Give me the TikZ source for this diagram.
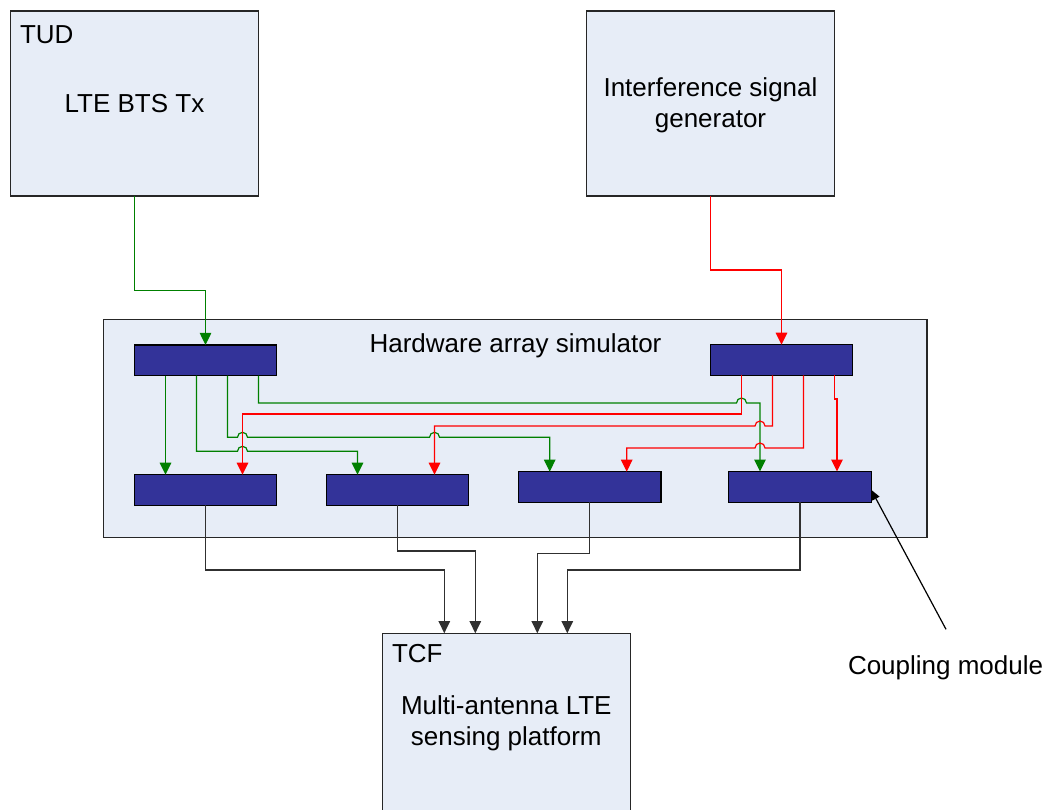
\documentclass[tikz,border=0pt]{standalone}
\usepackage{fontspec}
\setmainfont{Liberation Sans}
\usetikzlibrary{arrows.meta}
\definecolor{boxfill}{HTML}{E7EDF7}
\definecolor{modfill}{HTML}{333399}
\definecolor{sigtx}{HTML}{008000}
\definecolor{sigif}{HTML}{FF0000}
\definecolor{wire}{HTML}{303030}

\begin{document}
\begin{tikzpicture}[x=1pt,y=-1pt,
  unit/.style={draw=black!85, line width=1.3pt, fill=boxfill, inner sep=0pt, outer sep=0pt},
  module/.style={draw=black, line width=1.2pt, fill=modfill, minimum width=142.4pt,
    minimum height=30.6pt, inner sep=0pt, outer sep=0pt},
  lbl/.style={font=\fontsize{26}{31}\selectfont, inner sep=0pt, outer sep=0pt, anchor=base},
  gwire/.style={draw=sigtx, line width=1.2pt},
  rwire/.style={draw=sigif, line width=1.2pt},
  kwire/.style={draw=wire, line width=1.2pt},
  tip/.style={-{Triangle[length=12pt,width=11.5pt]}}
]
\useasboundingbox (0,0) rectangle (1047,809);
\clip (0,0) rectangle (1047,809);

% main units
\node[unit, minimum width=247.6pt, minimum height=185pt] (tud) at (134.5,103.5) {};
\node[unit, minimum width=248pt, minimum height=185pt] (isg) at (710.3,103.5) {};
\node[unit, minimum width=823.7pt, minimum height=218.2pt] (has) at (515.2,428.4) {};
\node[unit, minimum width=248pt, minimum height=185pt] (tcf) at (506.3,725.7) {};

% coupling modules
\node[module] (min) at (205.5,360.2) {};
\node[module] (mif) at (781.5,360) {};
\node[module] (m1) at (205.5,490) {};
\node[module] (m2) at (397.5,490) {};
\node[module] (m3) at (589.7,487) {};
\node[module] (m4) at (800,486.8) {};

% labels
\node[lbl, anchor=base west] (tudname) at (20,43) {TUD};
\node[lbl] (tudtext) at (134.5,112.3) {LTE BTS Tx};
\node[lbl] (isgtext1) at (710.5,96) {Interference signal};
\node[lbl] (isgtext2) at (710.5,127) {generator};
\node[lbl] (hastitle) at (515.5,352.7) {Hardware array simulator};
\node[lbl, anchor=base west] (tcfname) at (392,662) {TCF};
\node[lbl] (tcftext1) at (506.3,714.3) {Multi-antenna LTE};
\node[lbl] (tcftext2) at (506.3,745.3) {sensing platform};
\node[lbl, anchor=base west] (cmtext) at (848,674.5) {Coupling module};

% feeds into the simulator
\draw[gwire, tip] (tud.south) -- ++(0,94.3) -| (min.north);
\draw[rwire, tip] (isg.south) -- ++(0,74) -| (mif.north);

% LTE signal distribution
\draw[gwire, tip] ([xshift=-40pt]min.south) -- ([xshift=-40pt]m1.north);
\draw[gwire, tip] ([xshift=-9pt]min.south) |- (237.5,451.3)
  arc[start angle=180, end angle=0, radius=5pt] -| ([xshift=-40pt]m2.north);
\draw[gwire, tip] ([xshift=22pt]min.south) |- (237.5,437.3)
  arc[start angle=180, end angle=0, radius=5pt] -- (429.5,437.3)
  arc[start angle=180, end angle=0, radius=5pt] -| ([xshift=-40pt]m3.north);
\draw[gwire, tip] ([xshift=53pt]min.south) |- (736.5,403)
  arc[start angle=180, end angle=0, radius=5pt] -| ([xshift=-40pt]m4.north);

% interference distribution
\draw[rwire, tip] ([xshift=-40pt]mif.south) -- ++(0,38.7) -| ([xshift=37pt]m1.north);
\draw[rwire, tip] ([xshift=-9pt]mif.south) |- (765,426)
  arc[start angle=0, end angle=180, radius=5pt] -| ([xshift=37pt]m2.north);
\draw[rwire, tip] ([xshift=22pt]mif.south) |- (765,448)
  arc[start angle=0, end angle=180, radius=5pt] -| ([xshift=37pt]m3.north);
\draw[rwire, tip] ([xshift=53pt]mif.south) -- ++(0,23.7) -| ([xshift=37pt]m4.north);

% outputs to the sensing platform
\draw[kwire, tip] (m1.south) -- ++(0,64.6) -| ([xshift=-62pt]tcf.north);
\draw[kwire, tip] (m2.south) -- ++(0,45.7) -| ([xshift=-31pt]tcf.north);
\draw[kwire, tip] (m3.south) -- ++(0,51.4) -| ([xshift=31pt]tcf.north);
\draw[kwire, tip] (m4.south) -- ++(0,67.8) -| ([xshift=61pt]tcf.north);

% pointer to a coupling module
\coordinate (cmtail) at (946,629.3);
\draw[draw=black, line width=1.2pt, -{Triangle[length=10pt,width=8pt]}] (cmtail) -- ([yshift=-3pt]m4.east);
\end{tikzpicture}
\end{document}
